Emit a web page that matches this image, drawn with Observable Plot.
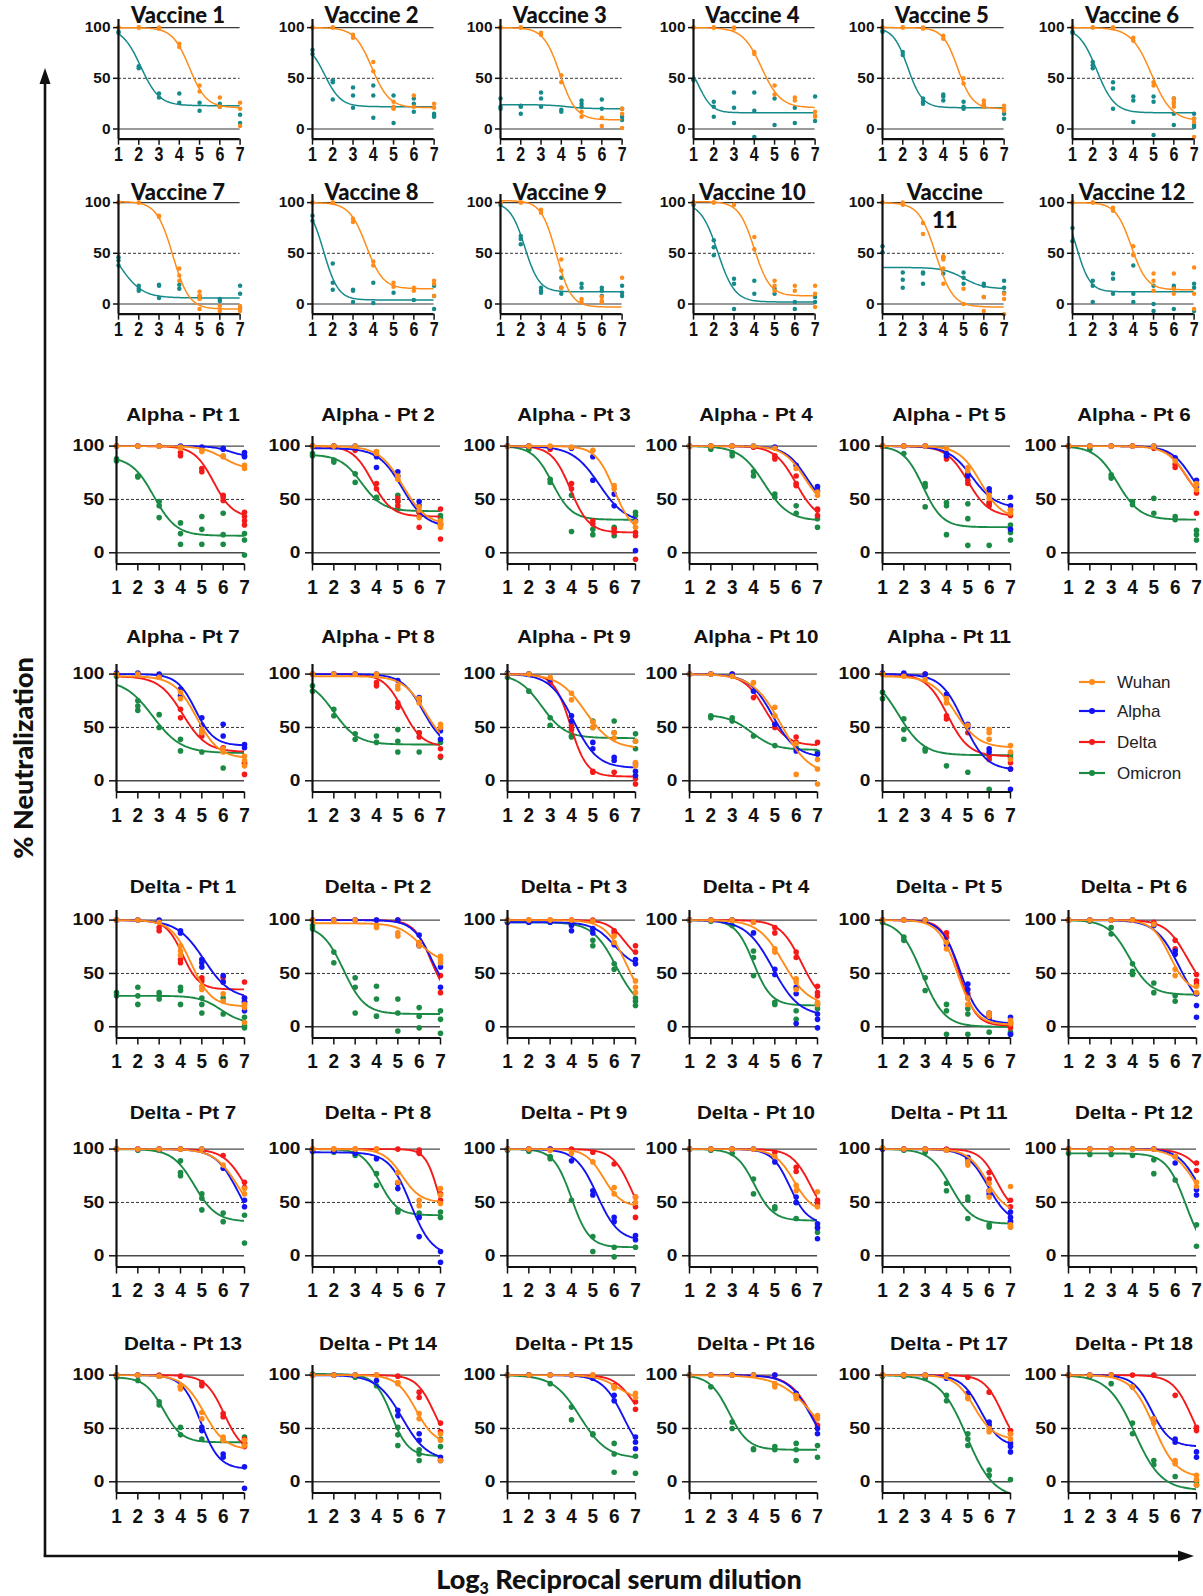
<!DOCTYPE html>
<html><head><meta charset="utf-8">
<script src="https://cdn.jsdelivr.net/npm/d3@7"></script>
<script src="https://cdn.jsdelivr.net/npm/@observablehq/plot@0.6"></script>
<style>
html,body{margin:0;padding:0;background:#fff;}
#page{position:relative;width:1203px;height:1596px;overflow:hidden;font-family:"Liberation Sans",Arial,sans-serif;background:#fff;}
.panel{position:absolute;}
.vtitle{position:absolute;font-family:Lato,"Open Sans",sans-serif;font-weight:900;font-size:22px;color:#111;white-space:nowrap;transform:translate(-50%,-50%);line-height:1;}
.ptitle{position:absolute;font-family:"Liberation Sans",Arial,sans-serif;font-weight:700;font-size:17.5px;color:#111;white-space:nowrap;transform:translate(-50%,-50%) scaleX(1.18);line-height:1;}
.leg{position:absolute;font-family:"Liberation Sans",Arial,sans-serif;font-size:17px;color:#222;transform:translateY(-50%);line-height:1;white-space:nowrap;}
.ylab{position:absolute;font-family:Lato,"Open Sans",sans-serif;font-weight:900;font-size:27px;color:#111;white-space:nowrap;transform:translate(-50%,-50%) rotate(-90deg);line-height:1;}
.xlab{position:absolute;font-family:Lato,"Open Sans",sans-serif;font-weight:900;font-size:27px;color:#111;white-space:nowrap;transform:translate(-50%,-50%);line-height:1;}
.xlab sub{font-size:16px;vertical-align:-5px;}
</style>
</head><body>
<div id="page">
<svg id="arrows" width="1203" height="1596" style="position:absolute;left:0;top:0">
<line x1="45" y1="1556" x2="45" y2="80" stroke="#111" stroke-width="2.6"/>
<polygon points="45,68 39.5,84 50.5,84" fill="#111"/>
<line x1="43.7" y1="1556" x2="1182" y2="1556" stroke="#111" stroke-width="2.6"/>
<polygon points="1194,1556 1178,1550.5 1178,1561.5" fill="#111"/>
</svg>
</div>
<script>
// ---------------- data ----------------
const dilutions = [1, 2, 3, 4, 5, 6, 7];
const xTicks = [1, 2, 3, 4, 5, 6, 7];
const yTicks = [0, 50, 100];
const variants = ["Wuhan", "Alpha", "Delta", "Omicron"];
const variantColors = ["#ff8c1a", "#1414f2", "#f51a1a", "#1b8a45"];
const vaccineSeries = ["Wuhan", "Omicron"];
const vaccineColors = ["#ff8c1a", "#16898a"];

const vaccineTitles = ["Vaccine 1","Vaccine 2","Vaccine 3","Vaccine 4","Vaccine 5","Vaccine 6","Vaccine 7","Vaccine 8","Vaccine 9","Vaccine 10","Vaccine 11","Vaccine 12"];
const alphaTitles = ["Alpha - Pt 1","Alpha - Pt 2","Alpha - Pt 3","Alpha - Pt 4","Alpha - Pt 5","Alpha - Pt 6","Alpha - Pt 7","Alpha - Pt 8","Alpha - Pt 9","Alpha - Pt 10","Alpha - Pt 11"];
const deltaTitles = ["Delta - Pt 1","Delta - Pt 2","Delta - Pt 3","Delta - Pt 4","Delta - Pt 5","Delta - Pt 6","Delta - Pt 7","Delta - Pt 8","Delta - Pt 9","Delta - Pt 10","Delta - Pt 11","Delta - Pt 12","Delta - Pt 13","Delta - Pt 14","Delta - Pt 15","Delta - Pt 16","Delta - Pt 17","Delta - Pt 18"];

// fitted curves: [top, bottom, midpoint, slope, (start)]
const vaccineFits = [
  [[100,21,4.5,2.4],[100,23,2.1,2.2]],
  [[100,21,3.93,2.34],[85,22,1.6,2.5]],
  [[100,9,3.93,2.5],[24,20,4.3,2]],
  [[100,21,4.36,2.14],[70,16,1.25,3]],
  [[100,20,4.71,2.74],[100,21,2.25,2.8]],
  [[100,8,4.9,2.0],[100,16,2.2,2.3]],
  [[101,-5,3.68,2.5],[70,6,1.05,1.8]],
  [[100,15,3.65,2.4],[100,4,1.55,2.8]],
  [[102,-3,3.75,2.7],[100,12,2.2,2.8]],
  [[101,8,4.0,2.6],[100,2,2.2,2.4]],
  [[100,-3,3.64,2.4],[36,15,5,2]],
  [[100,14,3.9,2.6],[100,12,1.2,3]]
];
// replicate points at dilutions 1..7: [Wuhan, Omicron]
const vaccineDots = [
  [[[100,100],[100,100],[100,99],[84,81],[43,37],[31,22],[26,20,3]],
   [[96,95],[62,60],[35,31],[35,26],[26,18],[25,22],[14,6]]],
  [[[100,100],[100,100],[93,90],[66,57],[27,22,20],[33,22],[25,21]],
   [[78,74],[48,46,29],[41,33,21],[43,33,11],[33,21,6],[30,25,17],[15,13,12]]],
  [[[100,100],[100,100],[95,93],[53,46],[17,12],[11,3],[20,15,1]],
   [[30,22,20],[23,22,15],[36,30,22],[19,17],[28,25,22],[29,20],[20,12,9]]],
  [[[100,100],[100,100],[100,99],[76,74],[43,34],[31,28],[17,13,12]],
   [[49,48],[27,22,12],[36,21,6],[36,18,-8],[30,4],[21,6],[32,8]]],
  [[[100,100],[100,100],[100,99],[92,89],[50,45],[28,25,22],[23,20,18]],
   [[97,96],[76,73],[30,27,25],[34,32,28],[27,22,20],[23,22],[15,10]]],
  [[[100,100],[100,100],[100,100],[90,87],[46,43],[30,27,25,22],[10,7,-8]],
   [[96,95],[66,63,60],[46,40,20],[32,28,7],[32,27,-6],[30,15,4],[15,10,4,2]]],
  [[[100,100],[100,100],[87,86],[35,28,23],[12,8,5,-5],[-2,-7],[-2,-5,-7]],
   [[46,43,38],[18,15,13],[19,18,6],[19,15],[8,6],[5,3],[18,10,-4]]],
  [[[100,100],[100,100],[84,81],[42,38],[21,17],[16,13],[23,20,8]],
   [[87,82],[40,21,14],[14,13,2],[21,1],[11],[4],[18,8,-5]]],
  [[[100,100],[100,100],[93,90],[44,33,16],[5,2],[7,3,2],[26]],
   [[98],[67,64,59],[16,13,11],[26,16,10],[20,16],[16,13,8],[18,11,8]]],
  [[[100,100],[100,100],[98],[66,54],[23,18,13],[18,13],[18,10,-3]],
   [[98],[63,56,48],[25,20,-5],[23,10],[15,10],[2,-5],[7,2]]],
  [[[100,100],[100,98],[80,69],[47,44,35,20],[15,0],[7,-7],[10,5,-10]],
   [[57,51],[31,24,16],[31,30,20],[46,30],[31,26,20],[20,18,7],[23,16,11]]],
  [[[100,100],[100,100],[95,92],[57,49,48],[30,23,13],[30,15,10],[36,10,-5]],
   [[75,62],[23,18,2],[30,25,10],[38,10,2],[18,0,-7],[18,16,-5],[20,16,-7]]]
];

// [Wuhan, Alpha, Delta, Omicron]
const alphaFits = [
  [[100,78,6,2],[100,90,6.3,2.5],[100,33,5.55,2.2],[90,16,2.75,1.9]],
  [[100,26,5.23,1.8],[98,24,5.2,1.8],[100,34,3.8,2.2],[92,39,3.3,2]],
  [[100,18,6.0,2.3],[100,28,5.3,1.6],[100,19,3.95,2.3],[100,31,3.1,2.2]],
  [[100,40,6.4,2],[100,40,6.5,2],[100,30,6,2],[100,30,4.5,1.75]],
  [[100,32,5.6,2],[100,42,5.2,1.8],[100,34,5.0,2],[100,24,2.9,2.2]],
  [[100,40,6.6,2],[100,40,6.8,2],[100,45,6.5,2.2],[100,31,3.3,1.9]],
  [[98,21,4.75,1.9],[100,33,4.7,2.3],[98,27,4.1,1.8],[95,26,2.7,1.5]],
  [[98,30,6.3,1.9],[100,30,6.2,2],[100,32,5.25,2.2],[95,34,2.0,1.8]],
  [[100,30,4.65,1.6],[100,12,4.1,1.8],[100,4,3.95,2.6],[100,40,2.6,1.8]],
  [[100,5,5.3,1.5],[100,22,4.9,1.8],[100,33,4.55,2],[62,29,3.9,1.8,2]],
  [[98,31,4.4,1.8],[100,10,4.8,1.9],[100,23,4.05,2],[100,24,1.75,1.7]]
];
const alphaDots = [
  [[[100],[100],[100],[99,98],[96,95],[91,90],[82,79]],
   [[100],[100],[100],[100],[99],[98,97],[94,91,90]],
   [[100],[100],[100],[94,91],[79,76],[54,52,49],[38,34,30,26]],
   [[88,86],[72,71],[48,44,33],[28,18,8],[34,22,8],[37,17,8],[18,12,-2]]],
  [[[100],[100],[100],[95,93],[72,69],[43,40,33],[30,27,24]],
   [[100],[100],[100],[90,80],[76,72],[48,44],[27,26]],
   [[100],[100],[96],[65,60],[51,48,44],[38,24],[41,13]],
   [[93,91],[87,85],[74,66],[52,51],[54,48,41],[38],[35,32]]],
  [[[100],[100],[100],[99],[96],[63,60],[29,24]],
   [[100],[100],[99],[98],[90,68],[55,44],[30,2]],
   [[100],[100],[97],[65,60],[30,27],[22,19],[19,16,-6]],
   [[100],[97],[69,66],[54,20],[22,17],[24,16],[38,35]]],
  [[[100],[100],[100],[100],[98],[79],[57,54]],
   [[100],[100],[100],[100],[99],[82],[62,58]],
   [[100],[100],[100],[99],[91,88],[72,65,63],[41,40,35]],
   [[100],[97],[94,91],[76,72],[55,52],[44,37],[32,24]]],
  [[[100],[100],[100],[98],[80,77],[54,51],[40,37]],
   [[100],[100],[100],[93,91],[74,72],[60,57],[52,44,22]],
   [[100],[100],[100],[90,88],[68,65],[47,44],[40,35]],
   [[100],[93],[65,62,43],[47,44,17],[46,32,7],[46,7],[26,19,12]]],
  [[[100],[100],[100],[100],[100],[86],[65,64,59]],
   [[100],[100],[100],[100],[100],[89],[68,62]],
   [[100],[100],[100],[100],[98],[83,80],[56,37]],
   [[100],[97],[73,70],[48,45],[51,37],[34,31],[21,17,12]]],
  [[[100],[100],[97],[83,77],[48,45],[30,27],[23,19,14]],
   [[101],[101],[100],[86,80],[59,52],[53,42],[34,31]],
   [[100],[100],[98],[67,59],[45,42],[31],[16,6]],
   [[98],[75,70,66],[62,50],[39,28],[27],[12],[17]]],
  [[[100],[100],[100],[100],[89,86],[77,73],[53,50]],
   [[100],[100],[100],[100],[94],[78,75],[47,39]],
   [[100],[100],[100],[92,89],[73,69],[45,41],[30,23]],
   [[89,84],[67,61],[44,39],[42,36],[48,37,27],[45,27],[36,22]]],
  [[[100],[100],[97],[82,76],[55,50],[45,40],[37,17,14]],
   [[101],[100],[95],[61,56],[36,30],[22,19],[16,9,5]],
   [[100],[100],[92],[52,48],[9,8],[8],[2,-3]],
   [[97],[84],[59,52],[42,41],[56,50],[56,45],[44,37,30]]],
  [[[100],[100],[98],[92],[69,61],[35,6],[20,11,-3]],
   [[100],[100],[100],[84],[53],[28],[25]],
   [[100],[100],[100],[78],[50],[41,36],[36]],
   [[],[61,59],[59,56],[42],[33],[31],[27]]],
  [[[100],[98],[95],[77,73],[52],[48,45,39],[33,27,20]],
   [[101],[101],[100],[81],[53,50],[30,27],[11,-8]],
   [[100],[100],[100],[61,58],[45],[23,20],[17,11]],
   [[83,77],[58,48,39],[30,28],[14],[8],[-8],[25,22]]]
];

const deltaFits = [
  [[100,19,4.5,2.1],[100,26,5.1,1.6],[100,35,4.1,2.6],[29,3,5.9,2]],
  [[97,60,6.0,2],[100,25,6.6,2.2],[100,25,6.55,2.5],[95,12,2.45,2]],
  [[100,15,6.6,2],[98,55,6.0,2],[100,60,6.5,2.5],[98,15,6.1,1.8]],
  [[100,20,5.4,1.7],[100,10,4.9,1.6],[100,20,6.25,2],[100,20,4.0,2.4]],
  [[100,2,4.5,2.3],[100,3,4.65,2.3],[100,1,4.6,2.6],[100,0,2.85,1.9]],
  [[100,33,5.75,2.4],[100,12,6.2,1.8],[100,30,6.55,2],[100,30,3.85,2]],
  [[100,30,6.7,1.8],[100,20,6.7,1.9],[100,35,7.0,2],[100,32,4.65,1.95]],
  [[100,50,5.2,2.3],[97,0,5.6,2],[100,20,6.88,3.35],[100,38,4.15,2.4]],
  [[100,46,5.5,2.4],[100,14,5.2,2],[100,20,6.85,2.2],[100,8,4.0,2.4]],
  [[100,40,5.9,2.2],[100,30,5.7,2.4],[100,30,6.7,2.2],[100,33,4.05,2.3]],
  [[100,40,5.9,2.2],[100,30,5.95,2],[100,40,6.35,2.5],[100,30,4.2,2]],
  [[100,40,6.9,2],[100,40,7.0,2.2],[100,50,7.4,2],[96,0,6.5,2.2]],
  [[100,30,5.1,2],[100,12,4.95,2.3],[100,27,6.05,2.3],[98,37,3.2,2.3]],
  [[100,35,5.85,2.2],[100,20,5.2,1.7],[100,30,6.7,2.4],[101,24,4.7,2.5]],
  [[100,76,6.2,2],[100,20,6.45,2],[100,50,6.9,2.2],[100,22,4.4,1.6]],
  [[100,20,6.92,1.2],[100,20,6.75,1.8],[100,20,6.8,1.8],[100,30,2.85,2.2]],
  [[100,40,5.3,2.2],[100,33,5.6,2.2],[100,30,6.6,2.4],[100,-15,4.95,1.6]],
  [[100,4,5.0,1.9],[100,33,4.9,2.3],[100,20,6.8,2.2],[100,-8,4.1,1.6]]
];
const deltaDots = [
  [[[100],[100],[98],[76,71,67],[38,35],[31,24],[21,18,4]],
   [[100],[100],[100],[90,88],[63,60,56],[48,42],[27,23,15]],
   [[100],[100],[93,90],[63,60],[46,43],[46,42],[42,27,24]],
   [[32,29],[37,29,21],[32,29,26],[37,34,21],[27,21,13],[27,12],[9,1,-1]]],
  [[[100],[100],[100],[95,93],[88,85],[79,76],[66,63,60]],
   [[100],[100],[100],[100],[100],[86,76],[56,37]],
   [[100],[100],[100],[100],[100],[79,77],[48,32]],
   [[95,92],[70,60],[46,37,13],[38,26,10],[26,13,-4],[18,10,-1],[15,7,-6]]],
  [[[100],[100],[100],[100],[99],[85,79],[43,37,32]],
   [[98],[98],[98],[95,90],[92,88],[77],[63,59]],
   [[100],[100],[100],[100],[100],[90,88],[76,70]],
   [[98],[98],[98],[96],[81,76],[59,54],[27,24,20]]],
  [[[100],[100],[100],[98],[73,70],[45,42,35],[23,21]],
   [[100],[100],[100],[88],[54,49],[37,31,3],[12,7,-1]],
   [[100],[100],[100],[98],[93,88],[70,65],[38,32,29]],
   [[100],[99],[95],[71,65,48],[23,21],[15,7],[21,17]]],
  [[[100],[100],[100],[79,73],[27,21],[13,10],[6,3]],
   [[100],[100],[100],[77],[40,35],[13,9],[9,4,-7]],
   [[100],[100],[100],[88,84],[31,27],[10],[2,-1]],
   [[98],[84,81],[46,34],[21,15,-7],[17,12,-7],[-5],[-7,-5]]],
  [[[100],[100],[100],[100],[96],[54,48],[38,32]],
   [[100],[100],[100],[100],[95],[71,68],[31,20,9]],
   [[100],[100],[100],[100],[98],[81,73],[49,43,40]],
   [[100],[99],[93,87],[59,52,49],[41,32],[29,24],[31]]],
  [[[100],[100],[100],[100],[100],[85],[63,58]],
   [[100],[100],[100],[100],[100],[82],[52,46]],
   [[100],[100],[100],[100],[99],[94],[69,64]],
   [[100],[99],[99],[89,78,75],[58,54,43],[40,32],[38,12]]],
  [[[100],[100],[100],[100],[78,69],[52,47],[63,57,49]],
   [[98],[98],[96],[91],[68,63],[36,18],[4,-6]],
   [[100],[100],[100],[100],[100],[99,96],[58,52]],
   [[99],[97],[94],[77,66],[43,41],[40],[41,36]]],
  [[[100],[100],[99],[96],[88],[64,58],[55,50]],
   [[100],[100],[100],[89],[61,57],[36,32],[19,15]],
   [[100],[100],[100],[100],[97],[86],[55,46,36]],
   [[99],[98],[93,91],[52],[18,4],[8,-1],[8]]],
  [[[100],[100],[100],[100],[93],[66,61],[60,46]],
   [[100],[100],[100],[100],[88],[55,50],[30,26,16]],
   [[100],[100],[100],[100],[97],[83,79],[52,49]],
   [[100],[99],[96],[72,58],[46,44],[50,35],[27,22]]],
  [[[101],[100],[100],[99],[88,85],[68,61,55],[65,29,27]],
   [[100],[100],[100],[99],[92,88],[61,58],[41,36,32]],
   [[100],[100],[100],[100],[92],[78,72],[52,46]],
   [[101],[99],[97],[68,61],[55,52,35],[29,27],[32,27]]],
  [[[100],[100],[100],[100],[100],[93],[69,65]],
   [[100],[100],[100],[100],[100],[87],[62,57]],
   [[100],[100],[100],[100],[100],[93],[87,80]],
   [[96],[95],[95],[94],[90,77],[71],[29,9]]],
  [[[100],[100],[99],[90,87],[65,59],[42,39],[39,34]],
   [[100],[100],[99],[89],[51,48],[26,23],[14,-6]],
   [[100],[100],[100],[99],[93,90],[64,61],[40,36,33]],
   [[98],[95],[75,72],[51,44],[40],[39],[42,36]]],
  [[[100],[100],[100],[100],[93,92],[64,59],[45,39,20]],
   [[100],[100],[100],[95],[67,62],[45,39],[23,20]],
   [[100],[100],[100],[100],[99],[84,79],[55,47]],
   [[101],[100],[98],[90],[51,44,34],[30,26,20],[40,33]]],
  [[[100],[100],[100],[100],[100],[89,88],[83,79]],
   [[100],[100],[100],[100],[97],[81,76],[42,37,31]],
   [[100],[100],[100],[100],[100],[90],[75,68]],
   [[100],[100],[92],[70,58],[45,44],[36,26,9],[24,8]]],
  [[[100],[100],[100],[100],[92,89],[81,78],[62,59]],
   [[100],[100],[100],[100],[100],[83],[50,45]],
   [[100],[100],[100],[100],[100],[81],[53]],
   [[100],[89],[56,50],[31,30],[33,30],[36,30,20],[34,23]]],
  [[[100],[100],[100],[100],[79,78],[50,47],[45,40]],
   [[100],[100],[100],[97],[83],[56,53],[36,33,28]],
   [[100],[100],[100],[100],[98],[84],[48,45]],
   [[99],[99],[97],[81,76],[45,40,34],[11,6],[2]]],
  [[[100],[100],[100],[89],[59,55],[20,17],[6,2,-3]],
   [[100],[100],[100],[89],[59],[40,37],[28,23]],
   [[100],[100],[100],[100],[100],[81],[51,48]],
   [[100],[99],[92],[55,45],[20,16],[5],[0,-3]]]
];

// ---------------- layout ----------------
const vaccineCols = [118.3, 311.7, 500, 692.6, 882, 1072.3];
const vaccineRowY100 = [27.3, 201.7];
const vaccineTitleY = [15, 191.7];
const variantCols = [116, 311.5, 507, 689, 882, 1067.5];
const alphaRowY100 = [445.7, 673.3];
const alphaTitleY = [415.7, 637.7];
const deltaRowY100 = [919.3, 1148.7, 1374.7];
const deltaTitleY = [888.3, 1114, 1345];

const vacCfg = {plotW:121.6, pyu:1.014, yMin:-10, yMax:108, r:2.25, lineW:1.5, tickY:5, padY:3, fontY:15, scaleY:1.03, tickX:6, padX:2, fontX:20, scaleX:0.8, line100:"#3a3a3a", line0:"#9a9a9a", line0W:1.8};
const varCfg = {plotW:128, pyu:1.067, yMin:-10.5, yMax:109, r:2.8, lineW:1.9, tickY:7, padY:5, fontY:16.5, scaleY:1.16, tickX:7, padX:8.5, fontX:20, scaleX:0.95, line100:"#4a4a4a", line0:"#4a4a4a", line0W:1.4};

const page = document.getElementById("page");

function curvePoints(p) {
  const [top, bottom, mid, slope, start = 1] = p;
  const out = [];
  const n = 90;
  for (let i = 0; i <= n; i++) {
    const x = start + (7 - start) * i / n;
    out.push({x, y: bottom + (top - bottom) / (1 + Math.exp(slope * (x - mid)))});
  }
  return out;
}
function dotPoints(reps) {
  const out = [];
  reps.forEach((vals, i) => vals.forEach(v => out.push({x: dilutions[i], y: v})));
  return out;
}
function addDiv(cls, html, x, y) {
  const d = document.createElement("div");
  d.className = cls;
  d.innerHTML = html;
  d.style.left = x + "px";
  d.style.top = y + "px";
  page.appendChild(d);
  return d;
}
function stretchText(t, s) {
  if (s === 1) return;
  const tr = t.getAttribute("transform");
  if (tr) {
    t.setAttribute("transform", tr + ` scale(${s},1)`);
  } else {
    const xs = t.getAttribute("x");
    const ok = xs !== null && /^-?[\d.]+$/.test(xs);
    const x = ok ? +xs : 0;
    if (ok) t.removeAttribute("x");
    t.setAttribute("transform", `translate(${x},0) scale(${s},1)`);
  }
}

function makePanel(cfg, axisX, y100, fits, dots, colors) {
  const mL = 50, mR = 8, mT = 4, mB = 40;
  const width = mL + cfg.plotW + mR;
  const height = mT + (cfg.yMax - cfg.yMin) * cfg.pyu + mB;
  const marks = [
    Plot.ruleY([100], {stroke: cfg.line100, strokeWidth: 1.4}),
    Plot.ruleY([0], {stroke: cfg.line0, strokeWidth: cfg.line0W}),
    Plot.ruleY([50], {stroke: "#333", strokeWidth: 1, strokeDasharray: "3,2"})
  ];
  for (let s = fits.length - 1; s >= 0; s--) {
    marks.push(Plot.line(curvePoints(fits[s]), {x: "x", y: "y", stroke: colors[s], strokeWidth: cfg.lineW, clip: true}));
    marks.push(Plot.dot(dotPoints(dots[s]), {x: "x", y: "y", r: cfg.r, fill: colors[s], stroke: "none"}));
  }
  marks.push(Plot.axisY({ticks: yTicks, tickSize: cfg.tickY, tickPadding: cfg.padY, fontSize: cfg.fontY, fontWeight: "bold", label: null, strokeWidth: 1.5, tickFormat: d => String(d)}));
  marks.push(Plot.axisX({ticks: xTicks, tickSize: cfg.tickX, tickPadding: cfg.padX, fontSize: cfg.fontX, fontWeight: "bold", label: null, strokeWidth: 1.5, tickFormat: d => String(d)}));
  marks.push(Plot.ruleX([1], {y1: cfg.yMin, y2: cfg.yMax, stroke: "#111", strokeWidth: 2.2}));
  marks.push(Plot.ruleY([cfg.yMin], {x1: 1, x2: 7, stroke: "#111", strokeWidth: 2.2}));
  const svg = Plot.plot({
    width, height, marginLeft: mL, marginRight: mR, marginTop: mT, marginBottom: mB,
    x: {domain: [1, 7]}, y: {domain: [cfg.yMin, cfg.yMax]},
    style: {background: "transparent", fontFamily: '"Liberation Sans", Arial, sans-serif', overflow: "visible", color: "#111"},
    marks
  });
  svg.querySelectorAll('g[aria-label="y-axis tick label"] text').forEach(t => stretchText(t, cfg.scaleY));
  svg.querySelectorAll('g[aria-label="x-axis tick label"] text').forEach(t => stretchText(t, cfg.scaleX));
  const div = document.createElement("div");
  div.className = "panel";
  div.style.left = (axisX - mL) + "px";
  div.style.top = (y100 - (cfg.yMax - 100) * cfg.pyu - mT) + "px";
  div.style.width = width + "px";
  div.appendChild(svg);
  page.appendChild(div);
}

// vaccine panels
vaccineTitles.forEach((title, i) => {
  const row = Math.floor(i / 6), col = i % 6;
  const ax = vaccineCols[col];
  makePanel(vacCfg, ax, vaccineRowY100[row], vaccineFits[i], vaccineDots[i], vaccineColors);
  const cx = ax + vacCfg.plotW / 2 - 1;
  if (title === "Vaccine 11") {
    const parts = title.split(" ");
    addDiv("vtitle", parts[0], cx + 3, vaccineTitleY[row]);
    addDiv("vtitle", parts[1], cx + 3, vaccineTitleY[row] + 28.5);
  } else {
    addDiv("vtitle", title, cx, vaccineTitleY[row]);
  }
});
// alpha panels
alphaTitles.forEach((title, i) => {
  const row = Math.floor(i / 6), col = i % 6;
  const ax = variantCols[col];
  makePanel(varCfg, ax, alphaRowY100[row], alphaFits[i], alphaDots[i], variantColors);
  addDiv("ptitle", title, ax + varCfg.plotW / 2 + 2.5, alphaTitleY[row]);
});
// delta panels
deltaTitles.forEach((title, i) => {
  const row = Math.floor(i / 6), col = i % 6;
  const ax = variantCols[col];
  makePanel(varCfg, ax, deltaRowY100[row], deltaFits[i], deltaDots[i], variantColors);
  addDiv("ptitle", title, ax + varCfg.plotW / 2 + 2.5, deltaTitleY[row]);
});

// legend
const legendY = [681.7, 711, 741.7, 772.7];
variants.forEach((name, i) => {
  const s = document.createElementNS("http://www.w3.org/2000/svg", "svg");
  s.setAttribute("width", 28); s.setAttribute("height", 10);
  s.style.position = "absolute"; s.style.left = "1078px"; s.style.top = (legendY[i] - 5) + "px";
  s.innerHTML = `<line x1="1" y1="5" x2="27" y2="5" stroke="${variantColors[i]}" stroke-width="2.2"/><circle cx="14" cy="5" r="3" fill="${variantColors[i]}"/>`;
  page.appendChild(s);
  addDiv("leg", name, 1117, legendY[i]);
});

// axis titles
addDiv("ylab", "% Neutralization", 22.4, 758);
addDiv("xlab", "Log<sub>3</sub> Reciprocal serum dilution", 619, 1580);
</script>
</body></html>
